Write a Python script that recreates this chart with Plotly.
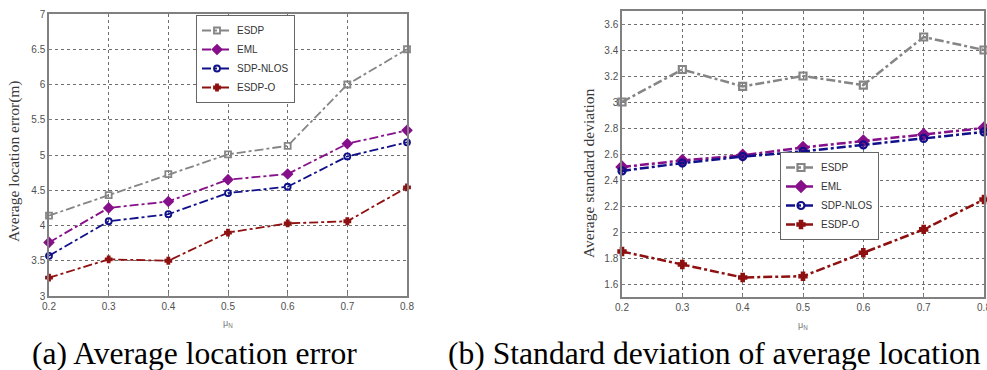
import plotly.graph_objects as go

mu_n = [0.2, 0.3, 0.4, 0.5, 0.6, 0.7, 0.8]
series_names = ["ESDP", "EML", "SDP-NLOS", "ESDP-O"]

# (a) Average location error (m)
err_esdp = [4.14, 4.43, 4.73, 5.01, 5.13, 6.0, 6.5]
err_eml = [3.76, 4.25, 4.34, 4.65, 4.73, 5.16, 5.35]
err_sdp_nlos = [3.57, 4.06, 4.16, 4.46, 4.55, 4.98, 5.18]
err_esdp_o = [3.26, 3.52, 3.50, 3.90, 4.03, 4.06, 4.54]

# (b) Average standard deviation
std_esdp = [3.0, 3.25, 3.12, 3.2, 3.13, 3.5, 3.4]
std_eml = [2.50, 2.55, 2.59, 2.65, 2.70, 2.75, 2.80]
std_sdp_nlos = [2.47, 2.53, 2.58, 2.62, 2.67, 2.72, 2.77]
std_esdp_o = [1.85, 1.75, 1.65, 1.66, 1.84, 2.02, 2.25]

left_y_ticks = [3, 3.5, 4, 4.5, 5, 5.5, 6, 6.5, 7]
right_y_ticks = [1.6, 1.8, 2, 2.2, 2.4, 2.6, 2.8, 3, 3.2, 3.4, 3.6]

styles = [
    dict(color="#858585", symbol="square-open", size=6),
    dict(color="#86108a", symbol="diamond", size=7),
    dict(color="#10108a", symbol="circle-open", size=6),
    dict(color="#8e1010", symbol="cross", size=5),
]

fig = go.Figure()

left_data = [err_esdp, err_eml, err_sdp_nlos, err_esdp_o]
right_data = [std_esdp, std_eml, std_sdp_nlos, std_esdp_o]

for name, ys, st in zip(series_names, left_data, styles):
    fig.add_trace(go.Scatter(
        x=mu_n, y=ys, name=name, mode="lines+markers",
        line=dict(color=st["color"], width=1.8, dash="dashdot"),
        marker=dict(symbol=st["symbol"], size=st["size"], color=st["color"],
                    line=dict(color=st["color"], width=1.8)),
        cliponaxis=False, xaxis="x", yaxis="y", legend="legend"))

for name, ys, st in zip(series_names, right_data, styles):
    fig.add_trace(go.Scatter(
        x=mu_n, y=ys, name=name, mode="lines+markers",
        line=dict(color=st["color"], width=2.5, dash="dashdot"),
        marker=dict(symbol=st["symbol"], size=st["size"] + 1, color=st["color"],
                    line=dict(color=st["color"], width=2.2)),
        cliponaxis=False, xaxis="x2", yaxis="y2", legend="legend2"))

W, H = 987, 370
tickfont = dict(family="Arial, Liberation Sans, sans-serif", size=10, color="#505050")
axis_common = dict(
    showline=True, linecolor="#808080", linewidth=1.5, mirror=True,
    ticks="inside", ticklen=3, tickcolor="#808080",
    showgrid=True, gridcolor="#6e6e6e", griddash="dot", gridwidth=1,
    zeroline=False, tickfont=tickfont, automargin=False,
)
legend_common = dict(
    xanchor="left", bgcolor="white", bordercolor="#666666", borderwidth=1,
    font=dict(family="Arial, Liberation Sans, sans-serif", size=10, color="#333333"),
    tracegroupgap=0, itemwidth=30,
)

fig.update_layout(
    template="none",
    width=W, height=H,
    margin=dict(l=0, r=0, t=0, b=0, pad=0),
    paper_bgcolor="white", plot_bgcolor="white",
    xaxis=dict(domain=[49 / W, 407 / W], range=[0.2, 0.8], tickvals=mu_n,
               anchor="y", **axis_common),
    yaxis=dict(domain=[1 - 296 / H, 1 - 14 / H], range=[3, 7], tickvals=left_y_ticks,
               anchor="x", **axis_common),
    xaxis2=dict(domain=[622 / W, 984 / W], range=[0.2, 0.8], tickvals=mu_n,
                anchor="y2", ticklabeloverflow="allow", **axis_common),
    yaxis2=dict(domain=[1 - 297 / H, 1 - 11 / H], range=[1.5, 3.7], tickvals=right_y_ticks,
                anchor="x2", **axis_common),
    legend=dict(x=196 / W, y=1 - 15 / H, yanchor="top", **legend_common),
    legend2=dict(x=780 / W, y=1 - 196 / H, yanchor="middle", **legend_common),
    showlegend=True,
)

serif = "Liberation Serif, Times New Roman, serif"
annotations = [
    dict(text="Average location error(m)", x=14 / W, y=1 - 161 / H, textangle=-90,
         font=dict(family=serif, size=15.5, color="#3a3a3a")),
    dict(text="Average standard deviation", x=588 / W, y=1 - 173 / H, textangle=-90,
         font=dict(family=serif, size=15.5, color="#3a3a3a")),
    dict(text="μ<sub>N</sub>", x=228 / W, y=1 - 323 / H,
         font=dict(family="Arial, sans-serif", size=9, color="#777777")),
    dict(text="μ<sub>N</sub>", x=803 / W, y=1 - 325 / H,
         font=dict(family="Arial, sans-serif", size=9, color="#777777")),
    dict(text="(a) Average location error", x=30 / W, y=1 - 353 / H, xanchor="left",
         font=dict(family=serif, size=31.6, color="black")),
    dict(text="(b) Standard deviation of average location", x=446 / W, y=1 - 353 / H,
         xanchor="left", font=dict(family=serif, size=31.6, color="black")),
]
for a in annotations:
    a.setdefault("xanchor", "center")
    a.update(xref="paper", yref="paper", yanchor="middle", showarrow=False)
fig.update_layout(annotations=annotations)

fig.write_html("out.html", config={"displayModeBar": False},
               post_script="document.body.style.margin='0';document.body.style.overflow='hidden';")
